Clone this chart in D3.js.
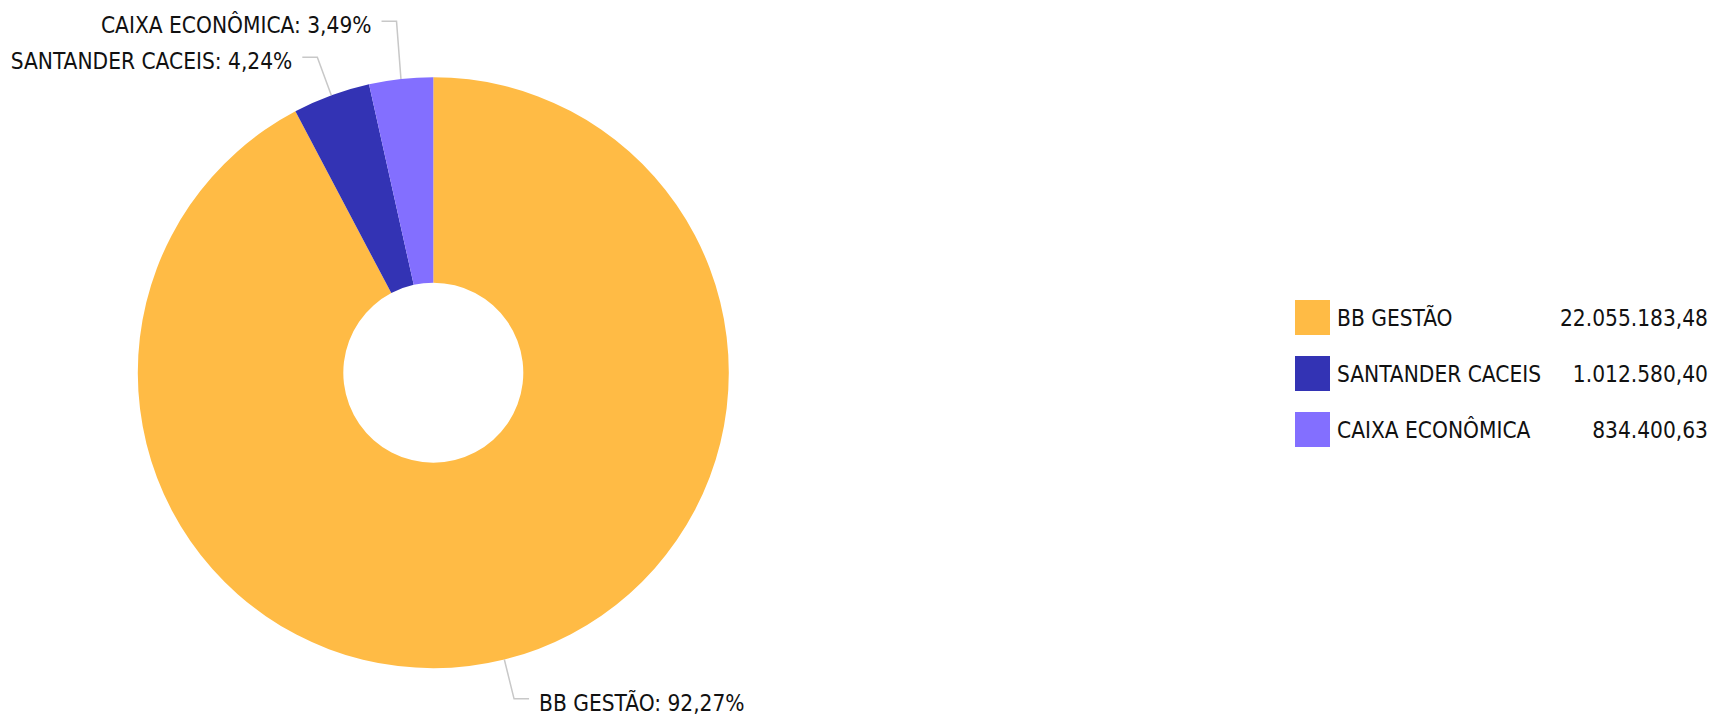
<!DOCTYPE html>
<html>
<head>
<meta charset="utf-8">
<script src="https://cdn.jsdelivr.net/npm/d3@7"></script>
<style>
  html, body { margin: 0; padding: 0; background: #ffffff; }
  svg { display: block; }
  text { font-family: "DejaVu Sans Condensed", "DejaVu Sans", sans-serif; font-stretch: condensed; fill: #111111; }
</style>
</head>
<body>
<svg id="chart" width="1718" height="716"></svg>
<script>
const categories = ["BB GESTÃO", "SANTANDER CACEIS", "CAIXA ECONÔMICA"];
const values = [22055183.48, 1012580.40, 834400.63];
const colors = ["#FFBB45", "#3333B4", "#836FFF"];

const W = 1718, H = 716;
const cx = 433.3, cy = 372.7;
const outerR = 295.5, innerR = 90;
const elbowR = 336, hLen = 15, textGap = 10, minGap = 36;
const fontSize = 22.5;

const locale = d3.formatLocale({decimal: ",", thousands: ".", grouping: [3], currency: ["R$", ""]});
const fmtVal = locale.format(",.2f");
const fmtPct = locale.format(".2f");

const data = categories.map((c, i) => ({name: c, value: values[i], color: colors[i]}));
const total = d3.sum(values);

const svg = d3.select("#chart");
const color = d3.scaleOrdinal().domain(categories).range(colors);

const pie = d3.pie().value(d => d.value).sort(null);
const arcs = pie(data);
const arc = d3.arc().innerRadius(innerR).outerRadius(outerR);

const g = svg.append("g").attr("transform", `translate(${cx},${cy})`);
g.selectAll("path.slice").data(arcs).enter().append("path")
  .attr("class", "slice")
  .attr("d", arc)
  .attr("fill", d => color(d.data.name));

// label layout
const labels = arcs.map(a => {
  const m = (a.startAngle + a.endAngle) / 2;
  const s = Math.sin(m), c = -Math.cos(m);
  return {
    a, m,
    px: outerR * s, py: outerR * c,
    ex: elbowR * s, ey: elbowR * c,
    side: s < 0 ? -1 : 1,
    text: `${a.data.name}: ${fmtPct(a.data.value / total * 100)}%`
  };
});
// collision: on each side, process from bottom to top, pushing upper labels up
[-1, 1].forEach(side => {
  const L = labels.filter(l => l.side === side).sort((a, b) => b.ey - a.ey);
  for (let i = 1; i < L.length; i++) {
    if (L[i].ey > L[i - 1].ey - minGap) L[i].ey = L[i - 1].ey - minGap;
  }
});

const lg = g.append("g");
lg.selectAll("polyline").data(labels).enter().append("polyline")
  .attr("points", d => `${d.px},${d.py} ${d.ex},${d.ey} ${d.ex + d.side * hLen},${d.ey}`)
  .attr("fill", "none")
  .attr("stroke", "#C8C8C8")
  .attr("stroke-width", 1.5);

lg.selectAll("text").data(labels).enter().append("text")
  .attr("x", d => d.ex + d.side * (hLen + textGap))
  .attr("y", d => d.ey + 11.7)
  .attr("text-anchor", d => d.side < 0 ? "end" : "start")
  .attr("font-size", fontSize)
  .text(d => d.text);

// legend
const legX = 1295, legY = 300, legStep = 56, sw = 35, valRight = 1708;
const leg = svg.append("g");
const rows = leg.selectAll("g").data(data).enter().append("g")
  .attr("transform", (d, i) => `translate(0,${legY + i * legStep})`);
rows.append("rect")
  .attr("x", legX).attr("y", 0)
  .attr("width", sw).attr("height", sw)
  .attr("fill", d => color(d.name));
rows.append("text")
  .attr("x", legX + sw + 7)
  .attr("y", sw / 2 + 8.2)
  .attr("font-size", fontSize)
  .text(d => d.name);
rows.append("text")
  .attr("x", valRight)
  .attr("y", sw / 2 + 8.2)
  .attr("text-anchor", "end")
  .attr("font-size", fontSize)
  .text(d => fmtVal(d.value));
</script>
</body>
</html>
